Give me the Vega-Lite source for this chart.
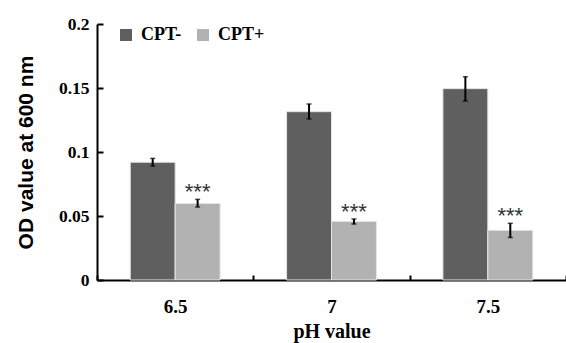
{
  "$schema": "https://vega.github.io/schema/vega-lite/v6.json",
  "width": 469,
  "height": 256,
  "autosize": {"type": "none"},
  "padding": {"left": 97, "top": 24, "right": 0, "bottom": 63},
  "background": "white",
  "config": {"view": {"stroke": null}},
  "data": {
    "values": [
      {"ph": "6.5", "group": "CPT-", "value": 0.092, "lo": 0.089, "hi": 0.095, "sig": ""},
      {"ph": "6.5", "group": "CPT+", "value": 0.0598, "lo": 0.057, "hi": 0.063, "sig": "***"},
      {"ph": "7", "group": "CPT-", "value": 0.1315, "lo": 0.1258, "hi": 0.1375, "sig": ""},
      {"ph": "7", "group": "CPT+", "value": 0.0458, "lo": 0.0437, "hi": 0.0477, "sig": "***"},
      {"ph": "7.5", "group": "CPT-", "value": 0.1495, "lo": 0.1398, "hi": 0.1588, "sig": ""},
      {"ph": "7.5", "group": "CPT+", "value": 0.0388, "lo": 0.0332, "hi": 0.0443, "sig": "***"}
    ]
  },
  "encoding": {
    "x": {
      "field": "ph", "type": "nominal", "sort": ["6.5", "7", "7.5"],
      "scale": {"paddingInner": 0, "paddingOuter": 0},
      "axis": {
        "title": "pH value", "labelAngle": 0, "tickBand": "extent",
        "tickSize": -5, "tickWidth": 2, "tickColor": "black",
        "domainWidth": 2, "domainColor": "black",
        "labelFont": "Liberation Serif", "labelFontSize": 19, "labelFontWeight": "bold", "labelColor": "black", "labelPadding": 22,
        "titleFont": "Liberation Serif", "titleFontSize": 20, "titleFontWeight": "bold", "titleColor": "black", "titlePadding": 5
      }
    },
    "xOffset": {
      "field": "group", "type": "nominal", "sort": ["CPT-", "CPT+"],
      "scale": {"paddingOuter": 0.74, "paddingInner": 0}
    }
  },
  "layer": [
    {
      "mark": {"type": "bar", "stroke": "#e4e4e4", "strokeWidth": 1},
      "encoding": {
        "y": {
          "field": "value", "type": "quantitative",
          "scale": {"domain": [0, 0.2], "nice": false},
          "axis": {
            "title": "OD value at 600 nm", "values": [0, 0.05, 0.1, 0.15, 0.2], "format": "~g", "grid": false,
            "domainColor": "black", "domainWidth": 2, "tickColor": "black", "tickWidth": 2, "tickSize": -6,
            "labelFont": "Liberation Serif", "labelFontWeight": "bold", "labelFontSize": 17.5, "labelColor": "black", "labelPadding": 14,
            "titleFont": "Liberation Sans", "titleFontWeight": "bold", "titleFontSize": 21, "titleColor": "black", "titlePadding": 22
          }
        },
        "color": {
          "field": "group", "type": "nominal", "sort": ["CPT-", "CPT+"],
          "scale": {"domain": ["CPT-", "CPT+"], "range": ["#5f5f5f", "#b2b2b2"]},
          "legend": {
            "title": null, "orient": "none", "legendX": 20, "legendY": 2, "direction": "horizontal",
            "symbolType": "square", "symbolSize": 144, "symbolStrokeWidth": 0, "symbolOpacity": 1,
            "labelFont": "Liberation Serif", "labelFontSize": 18, "labelFontWeight": "bold", "labelColor": "black",
            "labelOffset": 6, "columnPadding": 12
          }
        }
      }
    },
    {
      "mark": {"type": "rule", "color": "black", "strokeWidth": 2},
      "encoding": {
        "y": {"field": "lo", "type": "quantitative"},
        "y2": {"field": "hi"}
      }
    },
    {
      "mark": {"type": "tick", "color": "black", "thickness": 1.5, "size": 5},
      "encoding": {"y": {"field": "lo", "type": "quantitative"}}
    },
    {
      "mark": {"type": "tick", "color": "black", "thickness": 1.5, "size": 5},
      "encoding": {"y": {"field": "hi", "type": "quantitative"}}
    },
    {
      "mark": {"type": "text", "font": "Liberation Sans", "fontSize": 22, "color": "#333333", "dy": 0, "baseline": "alphabetic"},
      "encoding": {
        "y": {"field": "hi", "type": "quantitative"},
        "text": {"field": "sig"}
      }
    }
  ]
}
